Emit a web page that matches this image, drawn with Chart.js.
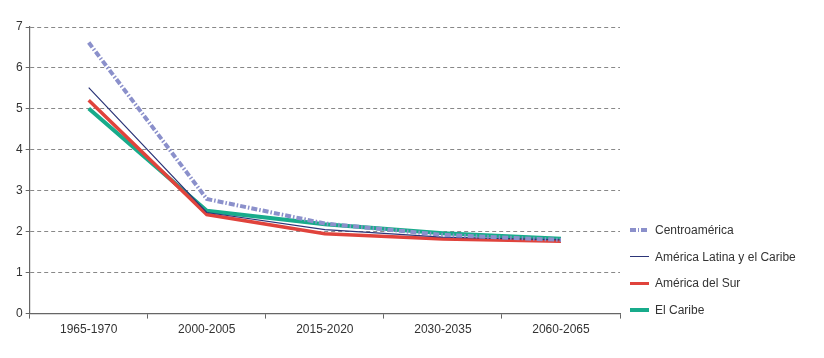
<!DOCTYPE html>
<html>
<head>
<meta charset="utf-8">
<script src="https://cdn.jsdelivr.net/npm/chart.js@4.4.1/dist/chart.umd.min.js"></script>
<style>
  html, body { margin: 0; padding: 0; background: #fff; }
  #wrap { position: relative; width: 824px; height: 358px; }
  #legend {
    position: absolute; left: 630px; top: 217px;
    font-family: "Liberation Sans", Arial, sans-serif;
    font-size: 12px; color: #333;
  }
  .item { display: flex; align-items: center; height: 26.5px; }
  .swatch { width: 19px; margin-right: 6px; }
</style>
</head>
<body>
<div id="wrap">
  <canvas id="chart" width="824" height="358"></canvas>
  <div id="legend"></div>
</div>
<script>
const periods = ["1965-1970", "2000-2005", "2015-2020", "2030-2035", "2060-2065"];
const seriesNames = ["Centroamérica", "América Latina y el Caribe", "América del Sur", "El Caribe"];
const centroamerica = [6.62, 2.8, 2.2, 1.92, 1.8];
const latinaCaribe = [5.52, 2.47, 2.05, 1.87, 1.8];
const surAmerica = [5.21, 2.42, 1.95, 1.82, 1.77];
const caribe = [5.01, 2.51, 2.18, 1.96, 1.83];
const yTicks = [0, 1, 2, 3, 4, 5, 6, 7];

const fontFamily = '"Liberation Sans", Arial, sans-serif';
const colors = ["#8b90cb", "#2c3578", "#e0433c", "#18ab8b"];
const widths = [4, 1.2, 3.5, 4];
const dashes = [[6, 2, 1.5, 2], [], [], []];

const values = [centroamerica, latinaCaribe, surAmerica, caribe];

const datasets = values.map((v, i) => ({
  label: seriesNames[i],
  data: v,
  borderColor: colors[i],
  backgroundColor: colors[i],
  borderWidth: widths[i],
  borderDash: dashes[i],
  pointRadius: 0,
  tension: 0,
  fill: false,
}));

const tickFont = { family: fontFamily, size: 12 };

new Chart(document.getElementById("chart").getContext("2d"), {
  type: "line",
  data: { labels: periods, datasets: datasets },
  options: {
    responsive: false,
    animation: false,
    layout: { padding: { left: 13, right: 204, top: 27, bottom: 17 } },
    plugins: { legend: { display: false }, tooltip: { enabled: false } },
    scales: {
      x: {
        offset: true,
        grid: { offset: true, drawOnChartArea: false, color: "#666", tickLength: 5 },
        border: { color: "#666", width: 1.2 },
        ticks: { color: "#333", font: tickFont, padding: 4, maxRotation: 0 },
      },
      y: {
        min: 0,
        max: 7,
        afterBuildTicks: (scale) => { scale.ticks = yTicks.map((v) => ({ value: v })); },
        grid: { color: "#888", tickColor: "#666", tickLength: 4, lineWidth: 1 },
        border: { color: "#666", width: 1.2, dash: [4, 3] },
        ticks: { color: "#333", font: tickFont, padding: 3 },
      },
    },
  },
});

// legend
const legend = document.getElementById("legend");
seriesNames.forEach((name, i) => {
  const item = document.createElement("div");
  item.className = "item";
  const sw = document.createElement("div");
  sw.className = "swatch";
  sw.style.height = Math.max(widths[i], 1.2) + "px";
  if (dashes[i].length) {
    sw.style.background = "repeating-linear-gradient(to right, " + colors[i] + " 0 6px, transparent 6px 8px, " + colors[i] + " 8px 9.5px, transparent 9.5px 11.5px)";
  } else {
    sw.style.background = colors[i];
  }
  const txt = document.createElement("span");
  txt.textContent = name;
  item.appendChild(sw);
  item.appendChild(txt);
  legend.appendChild(item);
});
</script>
</body>
</html>
